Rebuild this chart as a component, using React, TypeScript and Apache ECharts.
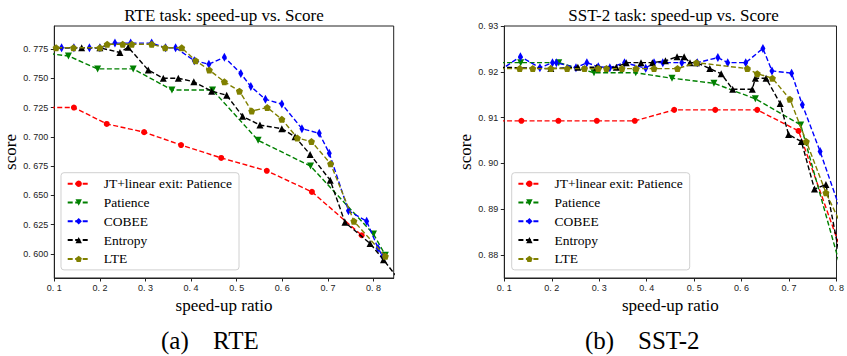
import React, { useEffect, useRef } from 'react';
import * as echarts from 'echarts';

// ---------------- data ----------------
const seriesNames = ['JT+linear exit: Patience', 'Patience', 'COBEE', 'Entropy', 'LTE'];

// RTE (left)
const rteJtX = [0.09, 0.143, 0.215, 0.297, 0.378, 0.466, 0.566, 0.665, 0.774];
const rteJtY = [0.725, 0.725, 0.711, 0.704, 0.693, 0.682, 0.671, 0.653, 0.616];
const rtePatX = [0.09, 0.131, 0.195, 0.273, 0.358, 0.447, 0.547, 0.662, 0.8, 0.826];
const rtePatY = [0.771, 0.769, 0.758, 0.758, 0.74, 0.74, 0.697, 0.675, 0.617, 0.599];
const rteCobX = [0.09, 0.116, 0.143, 0.177, 0.2, 0.233, 0.2675, 0.3135, 0.344, 0.366, 0.407, 0.439, 0.473, 0.509, 0.531, 0.563, 0.599, 0.643, 0.681, 0.703, 0.745, 0.785, 0.81, 0.82];
const rteCobY = [0.776, 0.776, 0.776, 0.776, 0.776, 0.78, 0.78, 0.78, 0.776, 0.776, 0.765, 0.762, 0.768, 0.754, 0.743, 0.732, 0.728, 0.707, 0.703, 0.686, 0.637, 0.628, 0.605, 0.598];
const rteEntX = [0.09, 0.16, 0.2, 0.244, 0.262, 0.306, 0.339, 0.372, 0.406, 0.445, 0.478, 0.513, 0.551, 0.599, 0.628, 0.661, 0.705, 0.7375, 0.7925, 0.822, 0.86];
const rteEntY = [0.776, 0.776, 0.776, 0.772, 0.7765, 0.757, 0.75, 0.75, 0.747, 0.739, 0.7355, 0.7175, 0.71, 0.707, 0.7, 0.685, 0.663, 0.627, 0.609, 0.595, 0.576];
const rteLteX = [0.09, 0.104, 0.142, 0.2, 0.216, 0.25, 0.27, 0.3136, 0.343, 0.3794, 0.41, 0.44, 0.473, 0.506, 0.533, 0.567, 0.599, 0.633, 0.664, 0.706, 0.757, 0.826];
const rteLteY = [0.776, 0.776, 0.776, 0.776, 0.779, 0.779, 0.779, 0.779, 0.776, 0.776, 0.765, 0.757, 0.747, 0.739, 0.722, 0.725, 0.715, 0.699, 0.696, 0.677, 0.628, 0.598];

// SST-2 (right)
const sstJtX = [0.09, 0.136, 0.214, 0.295, 0.375, 0.458, 0.5445, 0.633, 0.72, 0.81];
const sstJtY = [0.9093, 0.9093, 0.9093, 0.9093, 0.9093, 0.9117, 0.9117, 0.9117, 0.9071, 0.881];
const sstPatX = [0.09, 0.1345, 0.2147, 0.289, 0.377, 0.4534, 0.5418, 0.629, 0.7246, 0.81];
const sstPatY = [0.922, 0.922, 0.922, 0.9198, 0.9198, 0.9186, 0.9175, 0.9141, 0.9084, 0.8768];
const sstCobX = [0.09, 0.134, 0.175, 0.2015, 0.2097, 0.251, 0.274, 0.298, 0.3224, 0.3534, 0.398, 0.4155, 0.434, 0.474, 0.5066, 0.55, 0.5708, 0.6087, 0.645, 0.664, 0.7054, 0.728, 0.7655, 0.81];
const sstCobY = [0.9203, 0.9233, 0.9209, 0.922, 0.922, 0.9209, 0.922, 0.9211, 0.9209, 0.922, 0.9208, 0.922, 0.922, 0.922, 0.922, 0.9231, 0.922, 0.922, 0.9251, 0.9202, 0.9197, 0.9128, 0.9026, 0.8893];
const sstEntX = [0.09, 0.198, 0.255, 0.2946, 0.336, 0.357, 0.388, 0.412, 0.4396, 0.464, 0.479, 0.4913, 0.505, 0.533, 0.557, 0.5812, 0.6226, 0.629, 0.6516, 0.6813, 0.699, 0.726, 0.7536, 0.7778, 0.81];
const sstEntY = [0.921, 0.9207, 0.921, 0.921, 0.921, 0.922, 0.922, 0.922, 0.9224, 0.9233, 0.9233, 0.922, 0.922, 0.9207, 0.9196, 0.9162, 0.9162, 0.9186, 0.9186, 0.9131, 0.9063, 0.9048, 0.8944, 0.8954, 0.878];
const sstLteX = [0.09, 0.1325, 0.16, 0.198, 0.2325, 0.269, 0.298, 0.3153, 0.348, 0.3775, 0.4155, 0.465, 0.505, 0.6122, 0.633, 0.665, 0.7019, 0.7364, 0.7778, 0.81];
const sstLteY = [0.9207, 0.9207, 0.9207, 0.9207, 0.9207, 0.9207, 0.9207, 0.9207, 0.9207, 0.9207, 0.9207, 0.9207, 0.922, 0.9207, 0.9196, 0.9186, 0.914, 0.9048, 0.8936, 0.8866];

// ticks
const xTicks = [0.1, 0.2, 0.3, 0.4, 0.5, 0.6, 0.7, 0.8];
const rteYTicks = [0.6, 0.625, 0.65, 0.675, 0.7, 0.725, 0.75, 0.775];
const sstYTicks = [0.88, 0.89, 0.9, 0.91, 0.92, 0.93];

const rteTitle = 'RTE task: speed-up vs. Score';
const sstTitle = 'SST-2 task: speed-up vs. Score';
const xName = 'speed-up ratio';
const yName = 'score';
const captionTags = ['(a)', '(b)'];
const captionNames = ['RTE', 'SST-2'];

// ---------------- styles ----------------
const COLORS = ['#ff0000', '#008000', '#0000ff', '#000000', '#808000'];
const SYMBOLS = [
  'circle',
  'path://M-1,-1L1,-1L0,1Z',
  'path://M0,-1L0.6,0L0,1L-0.6,0Z',
  'triangle',
  'path://M0,-1L0.951,-0.309L0.588,0.809L-0.588,0.809L-0.951,-0.309Z',
];
const SYMBOL_SIZES: any[] = [6, 7, [5, 9], 7, 7];
const SERIF = '"Liberation Serif", "Times New Roman", serif';
const SANS = '"Liberation Sans", Arial, sans-serif';
const AXIS_COLOR = '#222';

const zip = (xs: number[], ys: number[]) => xs.map((x, i) => [x, ys[i]]);
const tickFmt = (digits: number) => (v: number) => {
  const s = Number(v).toFixed(digits);
  return s.replace('0.', '0. ');
};

export default function App() {
  const ref = useRef<HTMLDivElement>(null);
  useEffect(() => {
    if (!ref.current) return;
    const chart = echarts.init(ref.current, undefined, { renderer: 'svg' });

    const grids = [
      { left: 54.3, top: 26, width: 339.4, height: 252 },
      { left: 504.3, top: 26, width: 338.4, height: 252 },
    ];

    const mkX = (gi: number, max: number) => ({
      type: 'value',
      gridIndex: gi,
      min: 0.1,
      max,
      name: xName,
      nameLocation: 'middle',
      nameGap: 16,
      nameTextStyle: { fontFamily: SERIF, fontSize: 17, color: '#000' },
      axisLine: { show: true, lineStyle: { color: AXIS_COLOR, width: 1 } },
      axisTick: { show: true, length: 3.5, customValues: xTicks, lineStyle: { color: AXIS_COLOR } },
      axisLabel: {
        customValues: xTicks,
        formatter: tickFmt(1),
        fontFamily: SANS,
        fontSize: 9,
        color: '#222',
        margin: 5,
      },
      splitLine: { show: false },
    });
    const mkY = (gi: number, min: number, max: number, ticks: number[], digits: number, gap: number) => ({
      type: 'value',
      gridIndex: gi,
      min,
      max,
      name: yName,
      nameLocation: 'middle',
      nameGap: gap,
      nameTextStyle: { fontFamily: SERIF, fontSize: 17, color: '#000' },
      axisLine: { show: true, lineStyle: { color: AXIS_COLOR, width: 1 } },
      axisTick: { show: true, length: 3.5, customValues: ticks, lineStyle: { color: AXIS_COLOR } },
      axisLabel: {
        customValues: ticks,
        formatter: tickFmt(digits),
        fontFamily: SANS,
        fontSize: 9,
        color: '#222',
        margin: 6,
      },
      splitLine: { show: false },
    });

    const rteData = [zip(rteJtX, rteJtY), zip(rtePatX, rtePatY), zip(rteCobX, rteCobY), zip(rteEntX, rteEntY), zip(rteLteX, rteLteY)];
    const sstData = [zip(sstJtX, sstJtY), zip(sstPatX, sstPatY), zip(sstCobX, sstCobY), zip(sstEntX, sstEntY), zip(sstLteX, sstLteY)];

    const mkSeries = (data: number[][][], gi: number) =>
      data.map((d, i) => ({
        type: 'line',
        name: seriesNames[i],
        xAxisIndex: gi,
        yAxisIndex: gi,
        data: d,
        clip: true,
        symbol: SYMBOLS[i],
        symbolSize: SYMBOL_SIZES[i],
        showAllSymbol: true,
        color: COLORS[i],
        lineStyle: { color: COLORS[i], width: 1.4, type: [5, 2.5] },
        itemStyle: { color: COLORS[i], borderWidth: 0 },
        z: 2 + i,
      }));

    const mkLegend = (left: number) => ({
      orient: 'vertical',
      left,
      top: 172.7,
      data: seriesNames,
      itemWidth: 22,
      itemHeight: 8,
      itemGap: 4.8,
      padding: [4, 7, 4, 5.7],
      backgroundColor: '#fff',
      borderColor: '#d0d0d0',
      borderWidth: 1,
      borderRadius: 3,
      selectedMode: false,
      textStyle: { fontFamily: SERIF, fontSize: 13.5, color: '#000', lineHeight: 14, padding: [0, 0, 0, 9] },
    });

    const capStyle = (text: string, align: string) => ({
      text,
      fontFamily: SERIF,
      fontSize: 25,
      fill: '#000',
      align,
      verticalAlign: 'middle',
    });

    chart.setOption({
      animation: false,
      backgroundColor: '#fff',
      grid: grids.map((g) => ({ ...g, show: true, borderColor: AXIS_COLOR, borderWidth: 1, backgroundColor: 'transparent' })),
      xAxis: [mkX(0, 0.8443), mkX(1, 0.8)],
      yAxis: [mkY(0, 0.5795, 0.7946, rteYTicks, 3, 33), mkY(1, 0.875, 0.93, sstYTicks, 2, 29)],
      legend: [mkLegend(61), mkLegend(511.7)],
      series: [...mkSeries(rteData, 0), ...mkSeries(sstData, 1)],
      graphic: [
        { type: 'text', x: 224, y: 15, style: { text: rteTitle, fontFamily: SERIF, fontSize: 17, fill: '#000', align: 'center', verticalAlign: 'middle' } },
        { type: 'text', x: 673.5, y: 15, style: { text: sstTitle, fontFamily: SERIF, fontSize: 17, fill: '#000', align: 'center', verticalAlign: 'middle' } },
        { type: 'text', x: 161, y: 340, style: capStyle(captionTags[0], 'left') },
        { type: 'text', x: 213, y: 340, style: capStyle(captionNames[0], 'left') },
        { type: 'text', x: 585, y: 340, style: capStyle(captionTags[1], 'left') },
        { type: 'text', x: 638, y: 340, style: capStyle(captionNames[1], 'left') },
      ],
    });
    return () => chart.dispose();
  }, []);
  return <div ref={ref} style={{ position: 'absolute', left: 0, top: 0, width: 847, height: 356 }} />;
}
